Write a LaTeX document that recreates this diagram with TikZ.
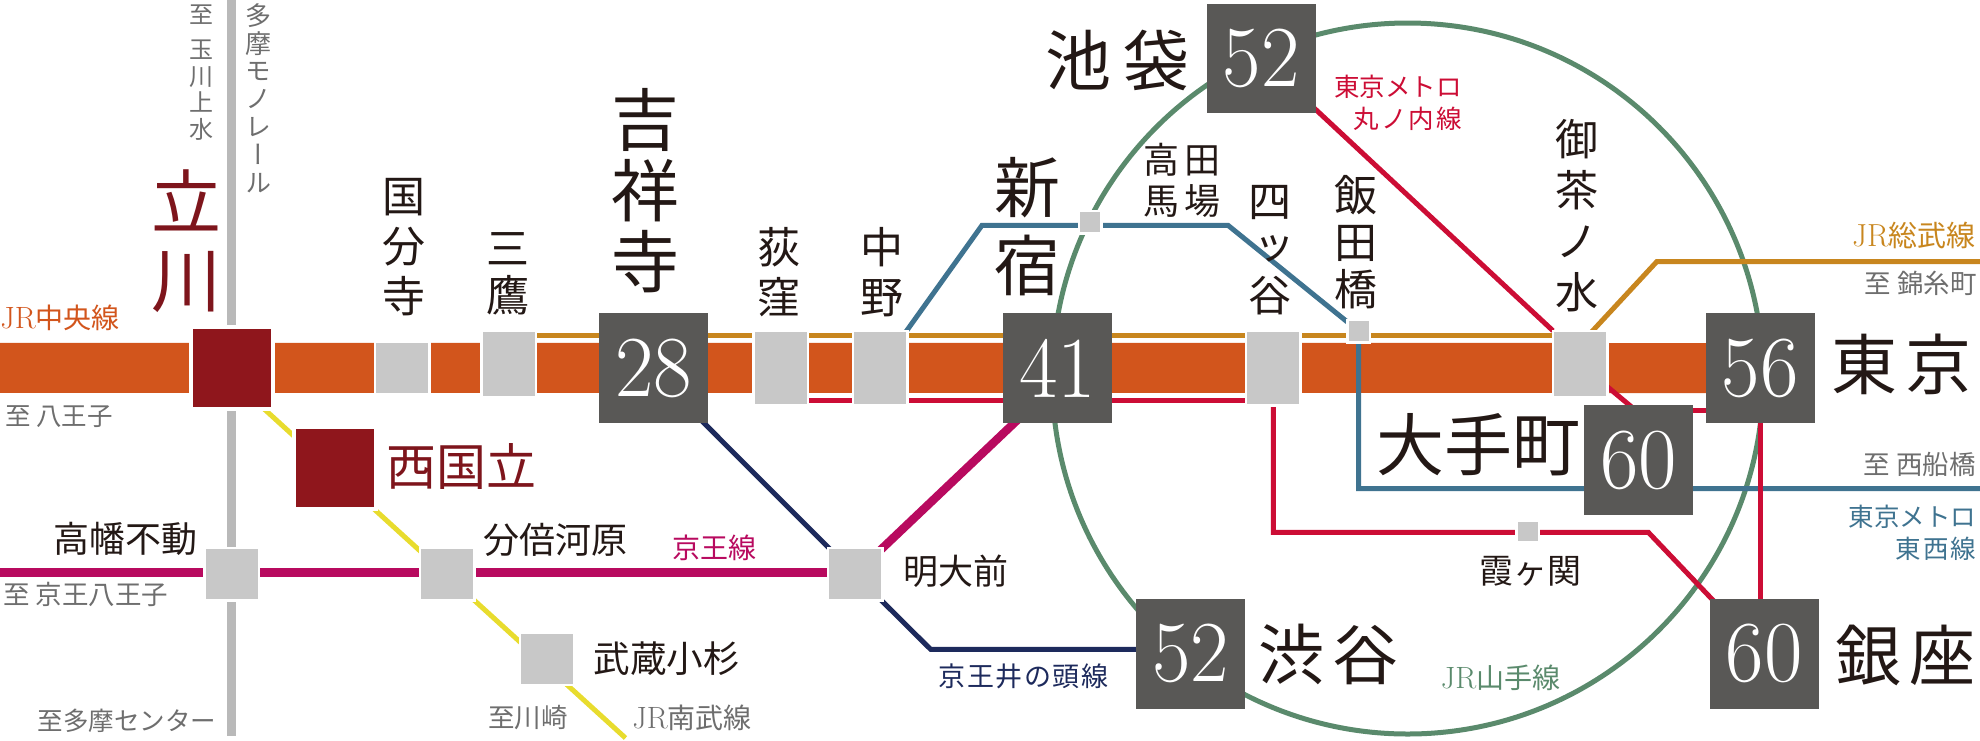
\documentclass[tikz,border=0pt]{standalone}
\usepackage{fontspec}
\usepackage{graphicx}
\usetikzlibrary{backgrounds}
\newfontfamily\cjk{Noto Sans CJK JP}
\newfontfamily\cjkv[RawFeature={+vert}]{Noto Sans CJK JP}
\definecolor{orangebar}{HTML}{D2551C}
\definecolor{darkbox}{HTML}{595856}
\definecolor{redbox}{HTML}{8F161C}
\definecolor{redtext}{HTML}{7E151C}
\definecolor{graybox}{HTML}{C8C8C8}
\definecolor{monog}{HTML}{B9B9B9}
\definecolor{gold}{HTML}{C8861E}
\definecolor{crimson}{HTML}{CC0D35}
\definecolor{tozai}{HTML}{3F7390}
\definecolor{navy}{HTML}{1D2A5C}
\definecolor{keio}{HTML}{B80A5F}
\definecolor{yama}{HTML}{5A8A6C}
\definecolor{nanbu}{HTML}{E8DC2E}
\definecolor{ink}{HTML}{231815}
\definecolor{soft}{HTML}{6E6E6E}
\newcommand\numtxt[1]{\raisebox{-2.5pt}{\scalebox{.96}[1]{\normalfont\fontsize{87}{87}\selectfont #1}}}
\newcommand\lm[1]{\scalebox{1.1}{\normalfont #1}}
\tikzset{
  gbox/.style 2 args={fill=graybox,draw=white,line width=2.5pt,minimum width=#1pt+2.5pt,minimum height=#2pt+2.5pt,inner sep=0pt,outer sep=0pt},
  rbox/.style 2 args={fill=redbox,draw=white,line width=4pt,minimum width=#1pt+4pt,minimum height=#2pt+4pt,inner sep=0pt,outer sep=0pt},
  dbox/.style={fill=darkbox,text=white,minimum width=109pt,minimum height=109.4pt,inner sep=0pt,outer sep=0pt},
  vt/.style 2 args={font=\cjkv\fontsize{#1}{#2}\selectfont,text=ink,align=center,inner sep=0pt},
  ht/.style={font=\cjk\fontsize{#1}{#1}\selectfont,text=ink,align=center,inner sep=0pt},
  ln/.style={line width=5pt,line join=miter},
}
\begin{document}
\begin{tikzpicture}[x=1pt,y=-1pt]
\useasboundingbox (0,0) rectangle (1980,740);
% stations
\node[rbox={78}{77.7}] (tachikawa) at (231.7,367.9) {};
\node[rbox={78.3}{77.7}] (nishikuni) at (335,468.2) {};
\node[gbox={52}{50}] (kokubunji) at (402,368) {};
\node[gbox={52}{64}] (mitaka) at (508.6,364) {};
\node[dbox] (kichijoji) at (653.8,368) {\numtxt{28}};
\node[gbox={52}{72}] (ogikubo) at (780.6,368) {};
\node[gbox={52}{72}] (nakano) at (880,368) {};
\node[dbox] (shinjuku) at (1057.5,368) {\numtxt{41}};
\node[gbox={52}{72}] (yotsuya) at (1273.3,368) {};
\node[gbox={52}{64}] (ocha) at (1580.2,364) {};
\node[dbox] (tokyo) at (1760,368) {\numtxt{56}};
\node[dbox] (otemachi) at (1638.4,460) {\numtxt{60}};
\node[dbox] (ginza) at (1764,653.8) {\numtxt{60}};
\node[dbox] (shibuya) at (1190.9,653.8) {\numtxt{52}};
\node[dbox] (ikebukuro) at (1261.2,58.7) {\numtxt{52}};
\node[gbox={20}{20}] (takada) at (1090,222) {};
\node[gbox={20}{20}] (iidabashi) at (1358.5,331) {};
\node[gbox={20}{19}] (kasumi) at (1527.7,531.7) {};
\node[gbox={52}{50}] (bubai) at (447.4,574.3) {};
\node[gbox={52}{50}] (takahata) at (231.5,574.3) {};
\node[gbox={52}{50}] (meidai) at (855,574.2) {};
\node[gbox={52}{50}] (musashi) at (547.3,658.8) {};
% free ends
\coordinate (mono0) at (231.5,0);
\coordinate (mono1) at (231.5,735.7);
\coordinate (or0) at (0,367.9);
\coordinate (ko0) at (0,572.5);
\coordinate (gold0) at (537,335.8);
\coordinate (red0) at (780,400);
\coordinate (sobu0) at (1585,339);
\coordinate (sobu1) at (1656.7,261.7);
\coordinate (sobu2) at (1980,261.7);
\coordinate (tz1) at (982,225.3);
\coordinate (tz2) at (1228,225.3);
\coordinate (tz3) at (1358.7,488.7);
\coordinate (tz4) at (1980,488.7);
\coordinate (nb0) at (262,407);
\coordinate (nb1) at (625.5,738);
\coordinate (ino1) at (930.6,649.3);
\coordinate (mk1) at (1640,414);
\coordinate (mk2) at (1650,410.7);
\coordinate (mk3) at (1648.3,532.3);
\coordinate (ky1) at (1030,408);
\coordinate (ino0) at (690,409);
\begin{scope}[on background layer]
\draw[yama,line width=5pt] (1407.7,378.5) circle [radius=355.5];
\draw[orangebar,line width=50pt] (or0) -- (tokyo.center);
\draw[gold,ln] (gold0) -- (gold0 -| ocha.west);
\draw[crimson,ln] (red0) -- (red0 -| yotsuya.center);
\draw[monog,line width=8.4pt] (mono0) -- (mono1);
\draw[nanbu,ln] (nb0) -- (nb1);
\draw[keio,line width=8.4pt] (ko0) -- (ko0 -| meidai.center);
\draw[keio,line width=8.4pt] (meidai.center) -- (ky1);
\draw[navy,ln] (ino0) -- (meidai.center) -- (ino1) -- (ino1 -| shibuya.center);
\draw[gold,ln] (sobu0) -- (sobu1) -- (sobu2);
\draw[tozai,ln] (nakano.center) -- (tz1) -- (tz2) -- (iidabashi.center) -- (tz3) -- (tz4);
\draw[crimson,ln] (ikebukuro.center) -- (ocha.north west);
\draw[crimson,ln] (ocha.center) -- (mk1);
\draw[crimson,ln] (mk2) -- (mk2 -| tokyo.center);
\draw[crimson,ln] (tokyo.center) -- (tokyo.center |- ginza.center);
\draw[crimson,ln] (yotsuya.center) -- (yotsuya.center |- mk3) -- (mk3) -- (ginza.center);
\end{scope}
% vertical labels
\node[vt={24}{26.5},text=soft] (tmj) at (201.4,72.5) {至\\[9pt]玉\\川\\上\\水};
\node[vt={26}{27.8},text=soft] (tmm) at (258.6,98) {多\\摩\\モ\\ノ\\レ\\ー\\ル};
\node[vt={70}{78},text=redtext] (ltachi) at (186,241) {立\\川};
\node[vt={43}{50}] (lkoku) at (403.5,247.5) {国\\分\\寺};
\node[vt={43}{47}] (lmita) at (508,274) {三\\鷹};
\node[vt={68}{71}] (lkichi) at (645.5,190.5) {吉\\祥\\寺};
\node[vt={43}{50}] (logi) at (779.4,272.5) {荻\\窪};
\node[vt={43}{50}] (lnaka) at (881.5,272.5) {中\\野};
\node[vt={66}{78}] (lshin) at (1027.5,227) {新\\宿};
\node[vt={43}{47}] (lyotsu) at (1270,250) {四\\ッ\\谷};
\node[vt={43}{47}] (liida) at (1355.5,242.5) {飯\\田\\橋};
\node[vt={43}{51}] (locha) at (1576.5,216) {御\\茶\\ノ\\水};
% horizontal labels
\node[ht=66] (likeb) at (1117.5,60) {池\hspace{12pt}袋};
\node[vt={36}{41.5}] (ltaka) at (1181.7,180.5) {高\hspace{5pt}田\\馬\hspace{5pt}場};
\node[ht=26,text=crimson,align=right,anchor=east,font=\cjk\fontsize{25.5}{31.5}\selectfont] (lmaru) at (1462,103) {東京メトロ\\丸\hspace{2pt}ノ\hspace{2pt}内\hspace{2pt}線};
\node[ht=29,text=gold,anchor=east] (lsobu) at (1976,235.5) {\lm{JR}総武線};
\node[ht=26.5,text=soft,anchor=east] (lkin) at (1977,283.5) {至 錦糸町};
\node[ht=66] (ltokyo) at (1901,364) {東\hspace{8pt}京};
\node[ht=68] (lotem) at (1478,445) {大手町};
\node[ht=26.5,text=soft,anchor=east] (lfuna) at (1976,464.5) {至 西船橋};
\node[ht=26,text=tozai,align=right,anchor=east,font=\cjk\fontsize{25.5}{32.5}\selectfont] (ltoz) at (1976.5,533) {東京メトロ\\東\hspace{2pt}西\hspace{2pt}線};
\node[ht=34] (lkasu) at (1530.5,571) {霞ヶ関};
\node[ht=66] (lginza) at (1905.5,655) {銀\hspace{8pt}座};
\node[ht=28,text=yama] (lyama) at (1500.5,677.5) {\lm{JR}山手線};
\node[ht=66] (lshibu) at (1328,654) {渋\hspace{8pt}谷};
\node[ht=27,text=navy] (lino) at (1023.6,676) {京\hspace{1.5pt}王\hspace{1.5pt}井\hspace{1.5pt}の\hspace{1.5pt}頭\hspace{1.5pt}線};
\node[ht=35] (lmeid) at (955.5,571.5) {明大前};
\node[ht=28,text=keio] (lkeio) at (714,548) {京王線};
\node[ht=28,text=soft] (lnanbu) at (692,718) {\lm{JR}南武線};
\node[ht=36.6] (lmusa) at (666.7,658.5) {武蔵小杉};
\node[ht=26.5,text=soft] (lkawa) at (528,718) {至川崎};
\node[ht=25.5,text=soft] (ltama) at (127,721) {至多摩センター};
\node[ht=25.5,text=soft] (lhachi) at (59,417) {至 八王子};
\node[ht=36] (ltakah) at (125,539) {高幡不動};
\node[ht=26.5,text=soft] (lkh) at (86,594) {至 京王八王子};
\node[ht=36] (lbubai) at (555.5,539.5) {分倍河原};
\node[ht=50,text=redtext] (lnishi) at (461,466.5) {西国立};
\node[ht=28,text=orangebar] (lchuo) at (60,317.5) {\lm{JR}中央線};
\end{tikzpicture}
\end{document}
